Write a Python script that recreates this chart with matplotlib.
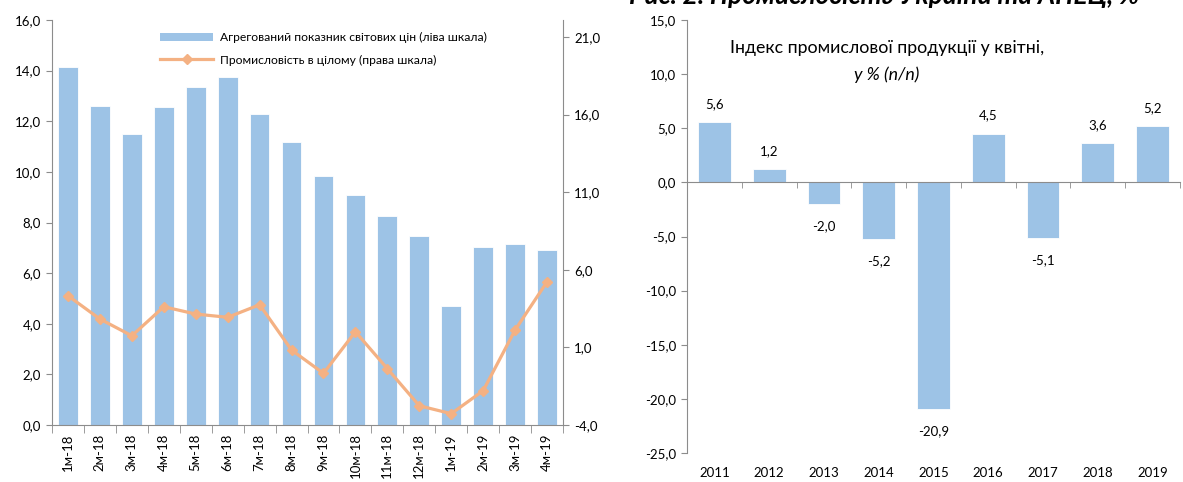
import matplotlib
matplotlib.use("Agg")
import matplotlib.pyplot as plt
import numpy as np
from matplotlib.lines import Line2D
from matplotlib.patches import Patch

plt.rcParams['font.family'] = ['Lato', 'DejaVu Sans']

# ---- data: left chart ----
months = ["1м-18", "2м-18", "3м-18", "4м-18", "5м-18", "6м-18", "7м-18", "8м-18",
          "9м-18", "10м-18", "11м-18", "12м-18", "1м-19", "2м-19", "3м-19", "4м-19"]
price_index = [14.15, 12.6, 11.5, 12.55, 13.35, 13.75, 12.3, 11.2,
               9.85, 9.1, 8.25, 7.45, 4.72, 7.05, 7.15, 6.92]
industry = [4.33, 2.83, 1.75, 3.62, 3.15, 2.94, 3.75, 0.83,
            -0.67, 2.01, -0.37, -2.76, -3.27, -1.79, 2.12, 5.23]
left_ticks = [0, 2, 4, 6, 8, 10, 12, 14, 16]
right_ticks = [-4, 1, 6, 11, 16, 21]

# ---- data: right chart ----
years = ["2011", "2012", "2013", "2014", "2015", "2016", "2017", "2018", "2019"]
prod_index = [5.6, 1.2, -2.0, -5.2, -20.9, 4.5, -5.1, 3.6, 5.2]
yticks2 = [-25, -20, -15, -10, -5, 0, 5, 10, 15]

BAR = '#9DC3E6'
LINE = '#F4B183'
SPINE = '#8C8C8C'
TXT = '#000000'

def fmt(v):
    return f"{v:.1f}".replace('.', ',')

W, H = 1183, 482
fig = plt.figure(figsize=(W / 100, H / 100), dpi=100)

# ---------- left chart ----------
ax = fig.add_axes([52 / W, 1 - 425 / H, (563 - 52) / W, (425 - 20) / H])
x = np.arange(len(months))
ax.bar(x, price_index, width=0.62, color=BAR, edgecolor='white', linewidth=0.6, zorder=2)
ax.set_xlim(-0.5, len(months) - 0.5)
ax.set_ylim(0, 16)
ax.set_yticks(left_ticks)
ax.set_yticklabels([fmt(v) for v in left_ticks], fontsize=9.5)
ax.set_xticks(x)
ax.set_xticklabels(months, rotation=90, fontsize=9.5)
ax.set_xticks(np.arange(len(months) + 1) - 0.5, minor=True)
ax.tick_params(axis='x', which='major', length=0, pad=6)
ax.tick_params(axis='x', which='minor', length=6, color=SPINE, direction='out')
ax.tick_params(axis='y', length=4, color=SPINE, pad=4)
for s in ['top', 'right']:
    ax.spines[s].set_visible(False)
for s in ['left', 'bottom']:
    ax.spines[s].set_color(SPINE)

ax2 = ax.twinx()
ax2.plot(x, industry, color=LINE, linewidth=2.3, marker='D', markersize=5,
         markerfacecolor=LINE, markeredgecolor=LINE, zorder=3)
ax2.set_ylim(-4, 22.1)
ax2.set_yticks(right_ticks)
ax2.set_yticklabels([fmt(v) for v in right_ticks], fontsize=9.5)
ax2.tick_params(axis='y', length=4, color=SPINE, pad=4)
for s in ['top', 'left', 'bottom']:
    ax2.spines[s].set_visible(False)
ax2.spines['right'].set_color(SPINE)

handles = [Patch(facecolor=BAR, edgecolor='none'),
           Line2D([0], [0], color=LINE, linewidth=2.3, marker='D', markersize=5)]
labels = ["Агрегований показник світових цін (ліва шкала)",
          "Промисловість в цілому (права шкала)"]
leg = ax2.legend(handles, labels, loc='upper left', bbox_to_anchor=(0.19, 0.997),
                 frameon=False, fontsize=8.7, handlelength=4.4, handleheight=0.7,
                 labelspacing=0.95, handletextpad=0.6)

# ---------- right chart ----------
bx = fig.add_axes([687 / W, 1 - 453 / H, (1180 - 687) / W, (453 - 20) / H])
xr = np.arange(len(years))
bx.bar(xr, prod_index, width=0.6, color=BAR, edgecolor='white', linewidth=0.6, zorder=2)
bx.set_xlim(-0.5, len(years) - 0.5)
bx.set_ylim(-25, 15)
bx.set_yticks(yticks2)
bx.set_yticklabels([fmt(v) for v in yticks2], fontsize=9.5)
bx.tick_params(axis='y', length=4, color=SPINE, pad=4)
bx.spines['top'].set_visible(False)
bx.spines['right'].set_visible(False)
bx.spines['left'].set_color(SPINE)
bx.spines['bottom'].set_position(('data', 0))
bx.spines['bottom'].set_color(SPINE)
bx.set_xticks([])
bx.set_xticks(np.arange(len(years) + 1) - 0.5, minor=True)
bx.tick_params(axis='x', which='minor', length=4, color=SPINE, direction='out')
bx.tick_params(axis='x', which='minor', labelbottom=False)

sec = bx.secondary_xaxis('bottom')
sec.set_xticks(xr)
sec.set_xticklabels(years, fontsize=9.5)
sec.tick_params(length=0, pad=10)
sec.spines['bottom'].set_visible(False)

for xi, v in zip(xr, prod_index):
    off = 13 if v >= 0 else -16
    bx.annotate(fmt(v), (xi, v), xytext=(0, off), textcoords='offset points',
                ha='center', va='center', fontsize=9.5, color=TXT)

bx.text(0.405, 0.935, "Індекс промислової продукції у квітні,", transform=bx.transAxes,
        ha='center', va='center', fontsize=12.8)
bx.text(0.405, 0.873, "у % (п/п)", transform=bx.transAxes, ha='center', va='center',
        fontsize=12.8, style='italic')

fig.text(0.532, 1 - 4 / H, "Рис. 2. Промисловість України та АПЕЦ, %",
         ha='left', va='baseline', fontsize=19, fontweight='bold', style='italic')

fig.savefig("out.png", dpi=100)
